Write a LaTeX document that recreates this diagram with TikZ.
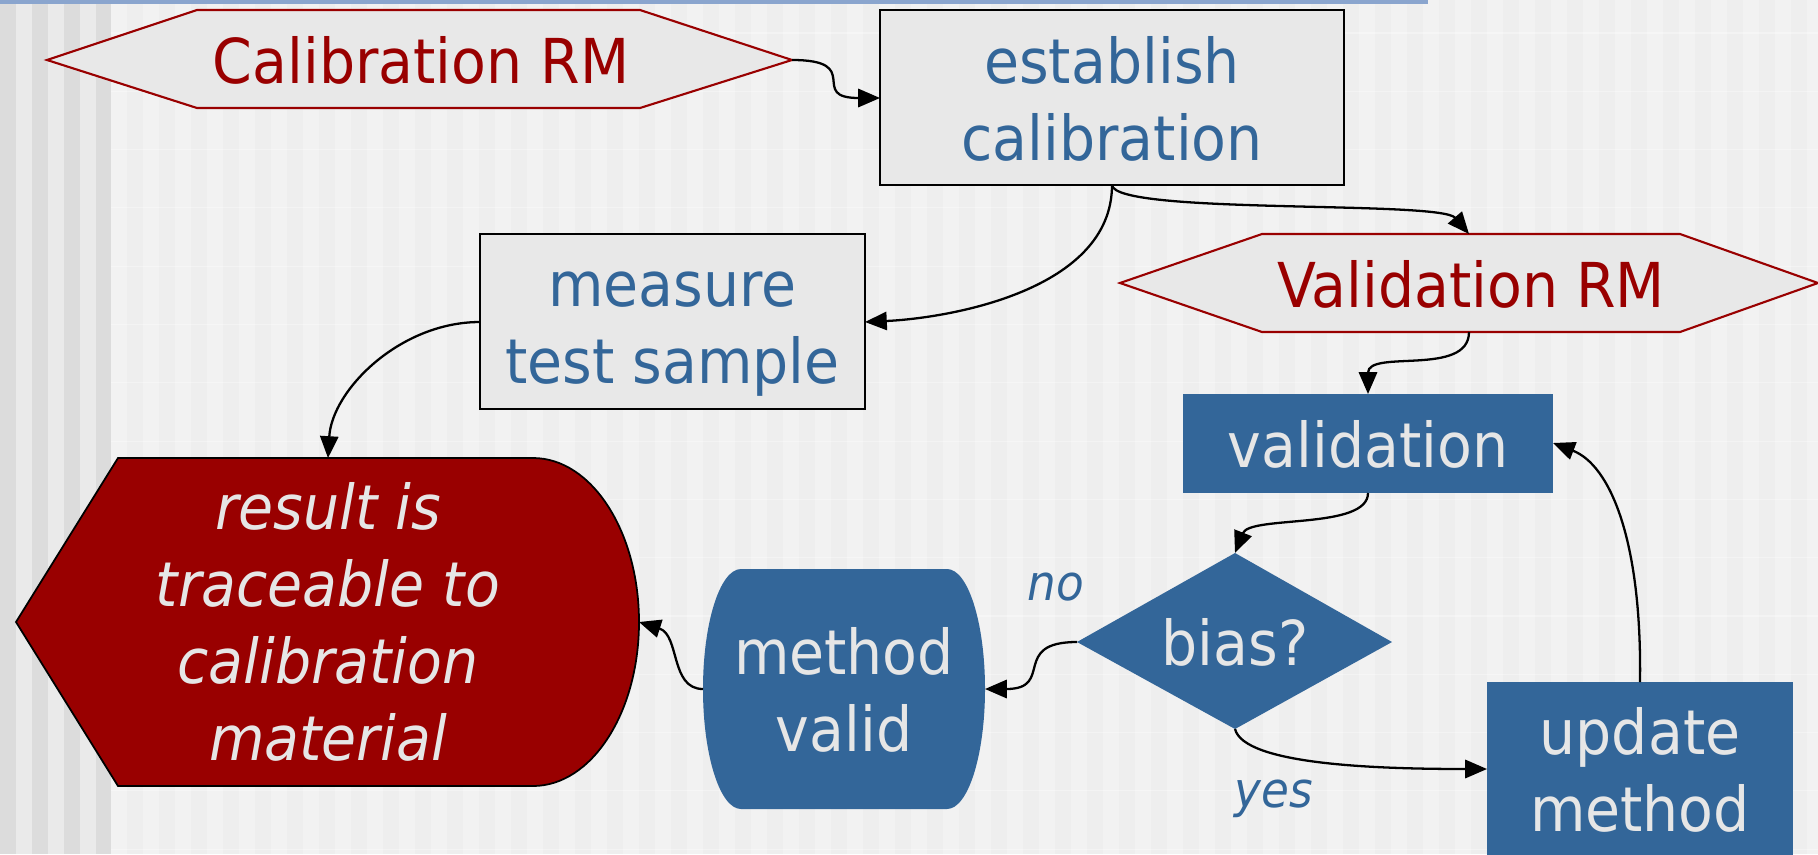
\documentclass[tikz,border=0pt]{standalone}
\usepackage{fontspec}
\setmainfont{DejaVu Sans}[FakeStretch=0.92]
\usetikzlibrary{arrows.meta,calc}
\definecolor{dred}{HTML}{990000}
\definecolor{sblue}{HTML}{336699}
\definecolor{boxgray}{HTML}{E8E8E8}
\definecolor{txtlight}{HTML}{E6E6E6}
\definecolor{bgmain}{HTML}{F2F2F2}
\definecolor{bgstripe}{HTML}{EEEEEE}
\definecolor{bandA}{HTML}{DCDCDC}
\definecolor{bandB}{HTML}{EAEAEA}
\definecolor{topstrip}{HTML}{8AA5CE}
\begin{document}
\begin{tikzpicture}[x=0.01cm,y=-0.01cm,
  bigtext/.style={font=\fontsize{17.6}{21.9}\selectfont, align=center, inner sep=0pt},
  bigit/.style={font=\fontsize{17.6}{21.9}\selectfont\itshape, align=center, inner sep=0pt},
  lbl/.style={font=\fontsize{14}{17.5}\selectfont\itshape, text=sblue, inner sep=0pt},
  conn/.style={draw=black, line width=0.65pt, -{Triangle[length=6.2pt,width=5.2pt]}},
  hexrm/.style={draw=dred, line width=0.6pt, fill=boxgray},
  graybox/.style={draw=black, line width=0.75pt, fill=boxgray},
  bluefill/.style={fill=sblue}
]
\useasboundingbox (0,0) rectangle (1818,854);
% background
\fill[bgmain] (0,0) rectangle (1818,854);
\foreach \i in {0,...,52} { \fill[bgstripe] ({127+32*\i},0) rectangle ({143+32*\i},854); }
\foreach \j in {0,...,14} { \draw[white, opacity=0.35, line width=0.3pt] (111,{33+58.3*\j}) -- (1818,{33+58.3*\j}); }
\fill[bandB] (0,0) rectangle (111,854);
\foreach \i in {0,...,3} { \fill[bandA] ({32*\i},0) rectangle ({min(32*\i+16,111)},854); }
\fill[topstrip] (0,0) rectangle (1428,4);

% Calibration RM
\path[hexrm] (47,60) -- (197,10) -- (640,10) -- (792,60) -- (640,108) -- (197,108) -- cycle;
\node[bigtext, text=dred] (calrm) at (421,67.7) {\strut Calibration RM};
\coordinate (calrm-e) at (792,60);

% establish calibration
\path[graybox] (880,10) rectangle (1344,185);
\node[bigtext, text=sblue] (est) at (1112,106.2) {\strut establish\\\strut calibration};
\coordinate (est-w) at (880,98);
\coordinate (est-s) at (1112,185);

% measure test sample
\path[graybox] (480,234) rectangle (865,409);
\node[bigtext, text=sblue] (meas) at (672.5,329.7) {\strut measure\\\strut test sample};
\coordinate (meas-e) at (865,322);
\coordinate (meas-w) at (480,322);

% Validation RM
\path[hexrm] (1120,283) -- (1262,234) -- (1680,234) -- (1818,283) -- (1680,332) -- (1262,332) -- cycle;
\node[bigtext, text=dred] (valrm) at (1471,291.7) {\strut Validation RM};
\coordinate (valrm-n) at (1469,234);
\coordinate (valrm-s) at (1469,332);

% validation
\path[bluefill] (1183,394) rectangle (1553,493);
\node[bigtext, text=txtlight] (val) at (1368,451.7) {\strut validation};
\coordinate (val-n) at (1368,394);
\coordinate (val-s) at (1368,493);
\coordinate (val-e) at (1553,443);

% bias?
\path[bluefill] (1235,553) -- (1392,642) -- (1235,729) -- (1077,642) -- cycle;
\node[bigtext, text=txtlight] (bias) at (1235,649.7) {\strut bias?};
\coordinate (bias-n) at (1235,553);
\coordinate (bias-s) at (1235,729);
\coordinate (bias-w) at (1077,642);

% update method
\path[bluefill] (1487,682) rectangle (1793,860);
\node[bigtext, text=txtlight] (upd) at (1640,777.2) {\strut update\\\strut method};
\coordinate (upd-w) at (1487,769);
\coordinate (upd-n) at (1640,682);

% method valid
\path[bluefill] (741,569) -- (947,569) .. controls (968,569) and (985,622.7) .. (985,689)
  .. controls (985,755.3) and (968,809) .. (947,809) -- (741,809)
  .. controls (720,809) and (703,755.3) .. (703,689)
  .. controls (703,622.7) and (720,569) .. (741,569) -- cycle;
\node[bigtext, text=txtlight] (mv) at (844,697.7) {\strut method\\\strut valid};
\coordinate (mv-e) at (985,689);
\coordinate (mv-w) at (703,689);

% result
\path[fill=dred, draw=black, line width=0.5pt] (16,622) -- (118,458) -- (533,458)
  .. controls (591.5,458) and (639,531.4) .. (639,622)
  .. controls (639,712.6) and (591.5,786) .. (533,786) -- (118,786) -- cycle;
\node[bigit, text=txtlight] (res) at (328,629.6) {\strut result is\\\strut traceable to\\\strut calibration\\\strut material};
\coordinate (res-n) at (328,458);
\coordinate (res-e) at (639,622);

% labels
\node[lbl] (no) at (1056,588) {\strut no};
\node[lbl] (yes) at (1274,795) {\strut yes};

% connectors
\draw[conn] (calrm-e) .. controls ($(calrm-e)+(73,0)$) and ($(est-w)+(-73,0)$) .. (est-w);
\draw[conn] (est-s) .. controls ($(est-s)+(0,105)$) and ($(meas-e)+(85,-4)$) .. (meas-e);
\draw[conn] (est-s) .. controls ($(est-s)+(3,30)$) and ($(valrm-n)+(-29,-34)$) .. (valrm-n);
\draw[conn] (valrm-s) .. controls ($(valrm-s)+(0,45)$) and ($(val-n)+(0,-45)$) .. (val-n);
\draw[conn] (val-s) .. controls ($(val-s)+(0,37)$) and ($(bias-n)+(15,-38)$) .. (bias-n);
\draw[conn] (bias-s) .. controls ($(bias-s)+(9,36)$) and ($(upd-w)+(-108,0)$) .. (upd-w);
\draw[conn] (upd-n) .. controls ($(upd-n)+(2,-142)$) and ($(val-e)+(57,22)$) .. (val-e);
\draw[conn] (bias-w) .. controls ($(bias-w)+(-67,0)$) and ($(mv-e)+(70,0)$) .. (mv-e);
\draw[conn] (mv-w) .. controls ($(mv-w)+(-33,0)$) and ($(res-e)+(41,13)$) .. (res-e);
\draw[conn] (meas-w) .. controls ($(meas-w)+(-80,0)$) and ($(res-n)+(4,-68)$) .. (res-n);
\end{tikzpicture}
\end{document}
